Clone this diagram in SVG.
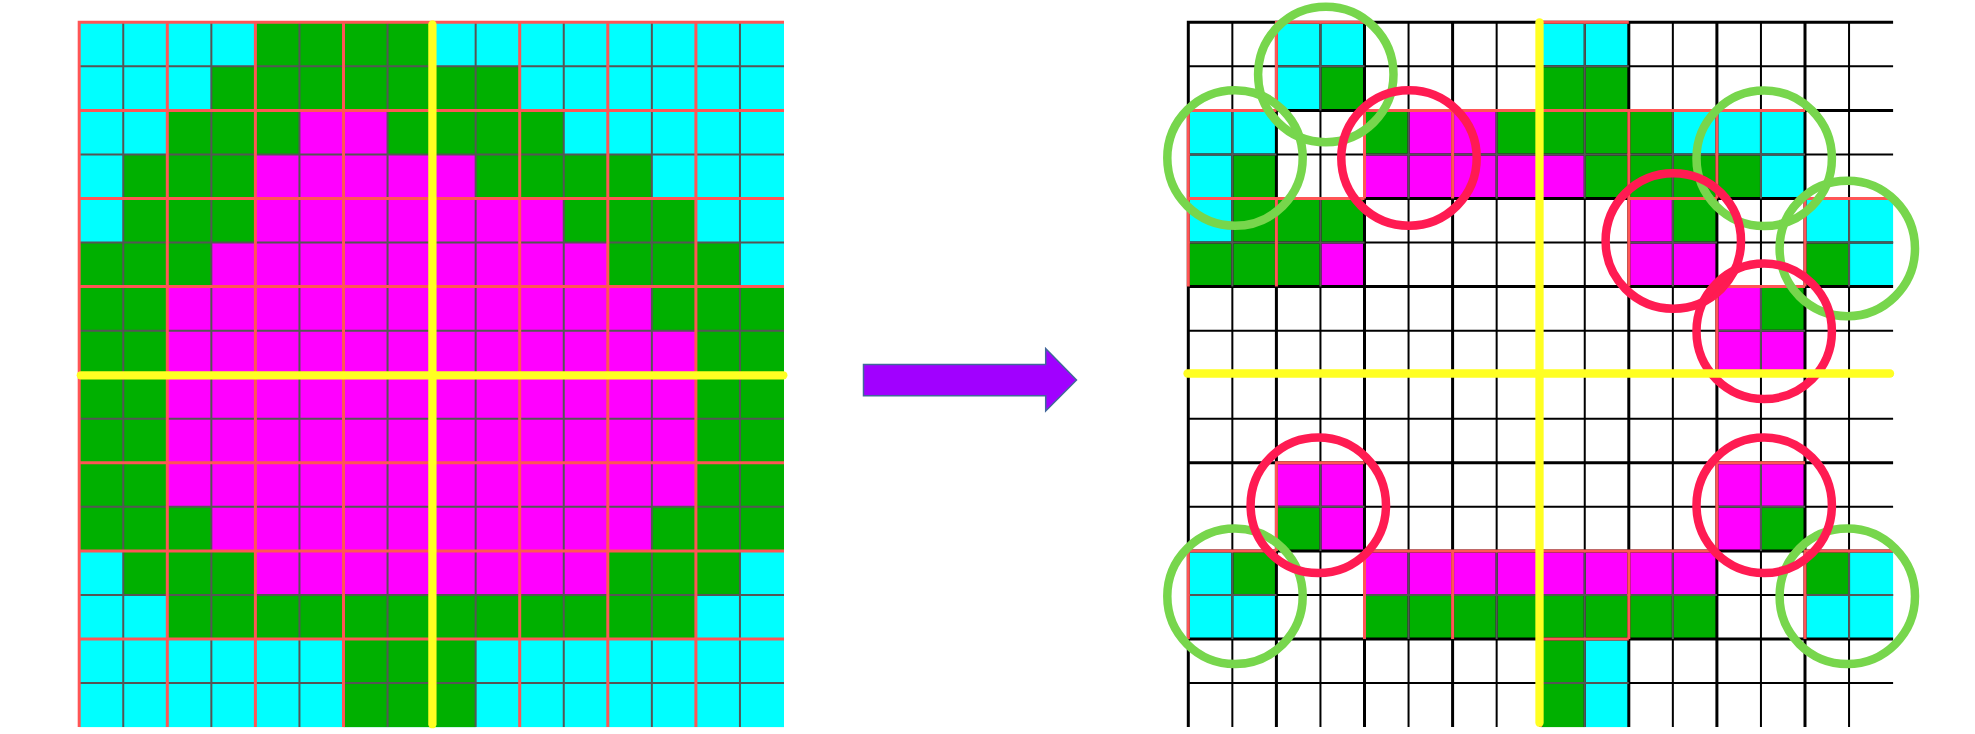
<svg xmlns="http://www.w3.org/2000/svg" width="1975" height="734" viewBox="0 0 1975 734">
<style>
.c{fill:#00ffff}
.g{fill:#00b000}
.m{fill:#ff00ff}
.ln{fill:none;stroke-linecap:butt;stroke-linejoin:miter}
.red{stroke:#ff5555;stroke-width:.068}
.gray{stroke:#555555;stroke-width:.0454}
.bk3{stroke:#000000;stroke-width:.068}
.bk2{stroke:#000000;stroke-width:.0454}
.yel{fill:none;stroke:#ffff22;stroke-width:8.3;stroke-linecap:round}
.ring{fill:none;stroke-width:8.5}
.rg{stroke:#77d64c}
.rr{stroke:#ff1b52}
</style>
<rect width="1975" height="734" fill="#ffffff"/>

<g id="left-grid" transform="translate(79.2 22.3) scale(44.05)">
  <rect class="c" x="0" y="0" width="16" height="16"/>
  <g class="g">
    <rect x="4" y="0" width="4" height="1"/>
    <rect x="3" y="1" width="7" height="1"/>
    <rect x="2" y="2" width="9" height="1"/>
    <rect x="1" y="3" width="12" height="1"/>
    <rect x="1" y="4" width="13" height="1"/>
    <rect x="0" y="5" width="15" height="1"/>
    <rect x="0" y="6" width="16" height="6"/>
    <rect x="1" y="12" width="14" height="1"/>
    <rect x="2" y="13" width="12" height="1"/>
    <rect x="6" y="14" width="3" height="2"/>
  </g>
  <g class="m">
    <rect x="5" y="2" width="2" height="1"/>
    <rect x="4" y="3" width="5" height="1"/>
    <rect x="4" y="4" width="7" height="1"/>
    <rect x="3" y="5" width="9" height="1"/>
    <rect x="2" y="6" width="11" height="1"/>
    <rect x="2" y="7" width="12" height="4"/>
    <rect x="3" y="11" width="10" height="1"/>
    <rect x="4" y="12" width="8" height="1"/>
  </g>
  <path class="ln gray" d="M1 0V16M3 0V16M5 0V16M7 0V16M9 0V16M11 0V16M13 0V16M15 0V16M0 1H16M0 3H16M0 5H16M0 7H16M0 9H16M0 11H16M0 13H16M0 15H16"/>
  <path class="ln red" d="M0 -.034V16M2 0V16M4 0V16M6 0V16M8 0V16M10 0V16M12 0V16M14 0V16M-.034 0H16M0 2H16M0 4H16M0 6H16M0 8H16M0 10H16M0 12H16M0 14H16"/>
</g>

<g id="right-grid" transform="translate(1188.3 22.3) scale(44.05)">
  <g class="c">
    <rect x="2" y="0" width="2" height="1"/>
    <rect x="2" y="1" width="1" height="1"/>
    <rect x="8" y="0" width="2" height="1"/>
    <rect x="0" y="2" width="2" height="1"/>
    <rect x="0" y="3" width="1" height="1"/>
    <rect x="11" y="2" width="3" height="1"/>
    <rect x="13" y="3" width="1" height="1"/>
    <rect x="0" y="4" width="1" height="1"/>
    <rect x="14" y="4" width="2" height="1"/>
    <rect x="15" y="5" width="1" height="1"/>
    <rect x="0" y="12" width="1" height="1"/>
    <rect x="0" y="13" width="2" height="1"/>
    <rect x="15" y="12" width="1" height="1"/>
    <rect x="14" y="13" width="2" height="1"/>
    <rect x="9" y="14" width="1" height="2"/>
  </g>
  <g class="g">
    <rect x="3" y="1" width="1" height="1"/>
    <rect x="8" y="1" width="2" height="1"/>
    <rect x="1" y="3" width="1" height="1"/>
    <rect x="4" y="2" width="1" height="1"/>
    <rect x="7" y="2" width="4" height="1"/>
    <rect x="9" y="3" width="4" height="1"/>
    <rect x="1" y="4" width="3" height="1"/>
    <rect x="0" y="5" width="3" height="1"/>
    <rect x="11" y="4" width="1" height="1"/>
    <rect x="14" y="5" width="1" height="1"/>
    <rect x="13" y="6" width="1" height="1"/>
    <rect x="2" y="11" width="1" height="1"/>
    <rect x="13" y="11" width="1" height="1"/>
    <rect x="1" y="12" width="1" height="1"/>
    <rect x="4" y="13" width="8" height="1"/>
    <rect x="14" y="12" width="1" height="1"/>
    <rect x="8" y="14" width="1" height="2"/>
  </g>
  <g class="m">
    <rect x="5" y="2" width="2" height="1"/>
    <rect x="4" y="3" width="5" height="1"/>
    <rect x="3" y="5" width="1" height="1"/>
    <rect x="10" y="4" width="1" height="1"/>
    <rect x="10" y="5" width="2" height="1"/>
    <rect x="12" y="6" width="1" height="1"/>
    <rect x="12" y="7" width="2" height="1"/>
    <rect x="2" y="10" width="2" height="1"/>
    <rect x="3" y="11" width="1" height="1"/>
    <rect x="12" y="10" width="2" height="1"/>
    <rect x="12" y="11" width="1" height="1"/>
    <rect x="4" y="12" width="8" height="1"/>
  </g>
  <path class="ln bk2" d="M1 0V16M3 0V16M5 0V16M7 0V16M9 0V16M11 0V16M13 0V16M15 0V16M0 1H16M0 3H16M0 5H16M0 7H16M0 9H16M0 11H16M0 13H16M0 15H16"/>
  <path class="ln bk3" d="M0 -.034V16M2 0V16M4 0V16M6 0V16M8 0V16M10 0V16M12 0V16M14 0V16M-.034 0H16M0 2H16M0 4H16M0 6H16M0 8H16M0 10H16M0 12H16M0 14H16"/>
  <path class="ln gray" d="M3 0V2M2 1H4M9 0V2M8 1H10M1 2V4M0 3H2M5 2V4M4 3H6M7 2V4M6 3H8M9 2V4M8 3H10M11 2V4M10 3H12M13 2V4M12 3H14M1 4V6M0 5H2M3 4V6M2 5H4M11 4V6M10 5H12M15 4V6M14 5H16M13 6V8M12 7H14M3 10V12M2 11H4M13 10V12M12 11H14M1 12V14M0 13H2M5 12V14M4 13H6M7 12V14M6 13H8M9 12V14M8 13H10M11 12V14M10 13H12M15 12V14M14 13H16M9 14V16M8 15H10"/>
  <path class="ln red" d="M2 2V0H4M8 2V0H10M0 4V2H2M4 4V2H6M6 4V2H8M8 4V2H10M10 4V2H12M12 4V2H14M0 6V4H2M2 6V4H4M10 6V4H12M14 6V4H16M12 8V6H14M2 12V10H4M12 12V10H14M0 14V12H2M4 14V12H6M6 14V12H8M8 14V12H10M10 14V12H12M14 14V12H16M8 16V14H10"/>
</g>

<g id="circles">
  <circle class="ring rg" cx="1325.8" cy="74.5" r="67.7"/>
  <circle class="ring rg" cx="1235" cy="158" r="67.7"/>
  <circle class="ring rg" cx="1764.2" cy="158.3" r="67.7"/>
  <circle class="ring rg" cx="1847.3" cy="248.5" r="67.7"/>
  <circle class="ring rg" cx="1235" cy="596.3" r="67.7"/>
  <circle class="ring rg" cx="1847.3" cy="596.3" r="67.7"/>
  <circle class="ring rr" cx="1409" cy="158" r="67.7"/>
  <circle class="ring rr" cx="1673.3" cy="241" r="67.7"/>
  <circle class="ring rr" cx="1764.2" cy="331.3" r="67.7"/>
  <circle class="ring rr" cx="1318.3" cy="505.3" r="67.7"/>
  <circle class="ring rr" cx="1764.2" cy="505.3" r="67.7"/>
</g>

<g id="axes">
  <line class="yel" x1="432.4" y1="24.5" x2="432.4" y2="724.2"/>
  <line class="yel" x1="80.8" y1="375.3" x2="783.3" y2="375.3"/>
  <line class="yel" x1="1539.5" y1="22.3" x2="1539.5" y2="722.7"/>
  <line class="yel" x1="1187.5" y1="373.5" x2="1890" y2="373.5"/>
</g>

<g id="connectors">
  <polygon id="arrow" points="863.5,364.5 1045.7,364.5 1045.7,348.5 1076.5,380 1045.7,411 1045.7,395.7 863.5,395.7" fill="#a100ff" stroke="#41679b" stroke-width="1.5"/>
</g>
</svg>
